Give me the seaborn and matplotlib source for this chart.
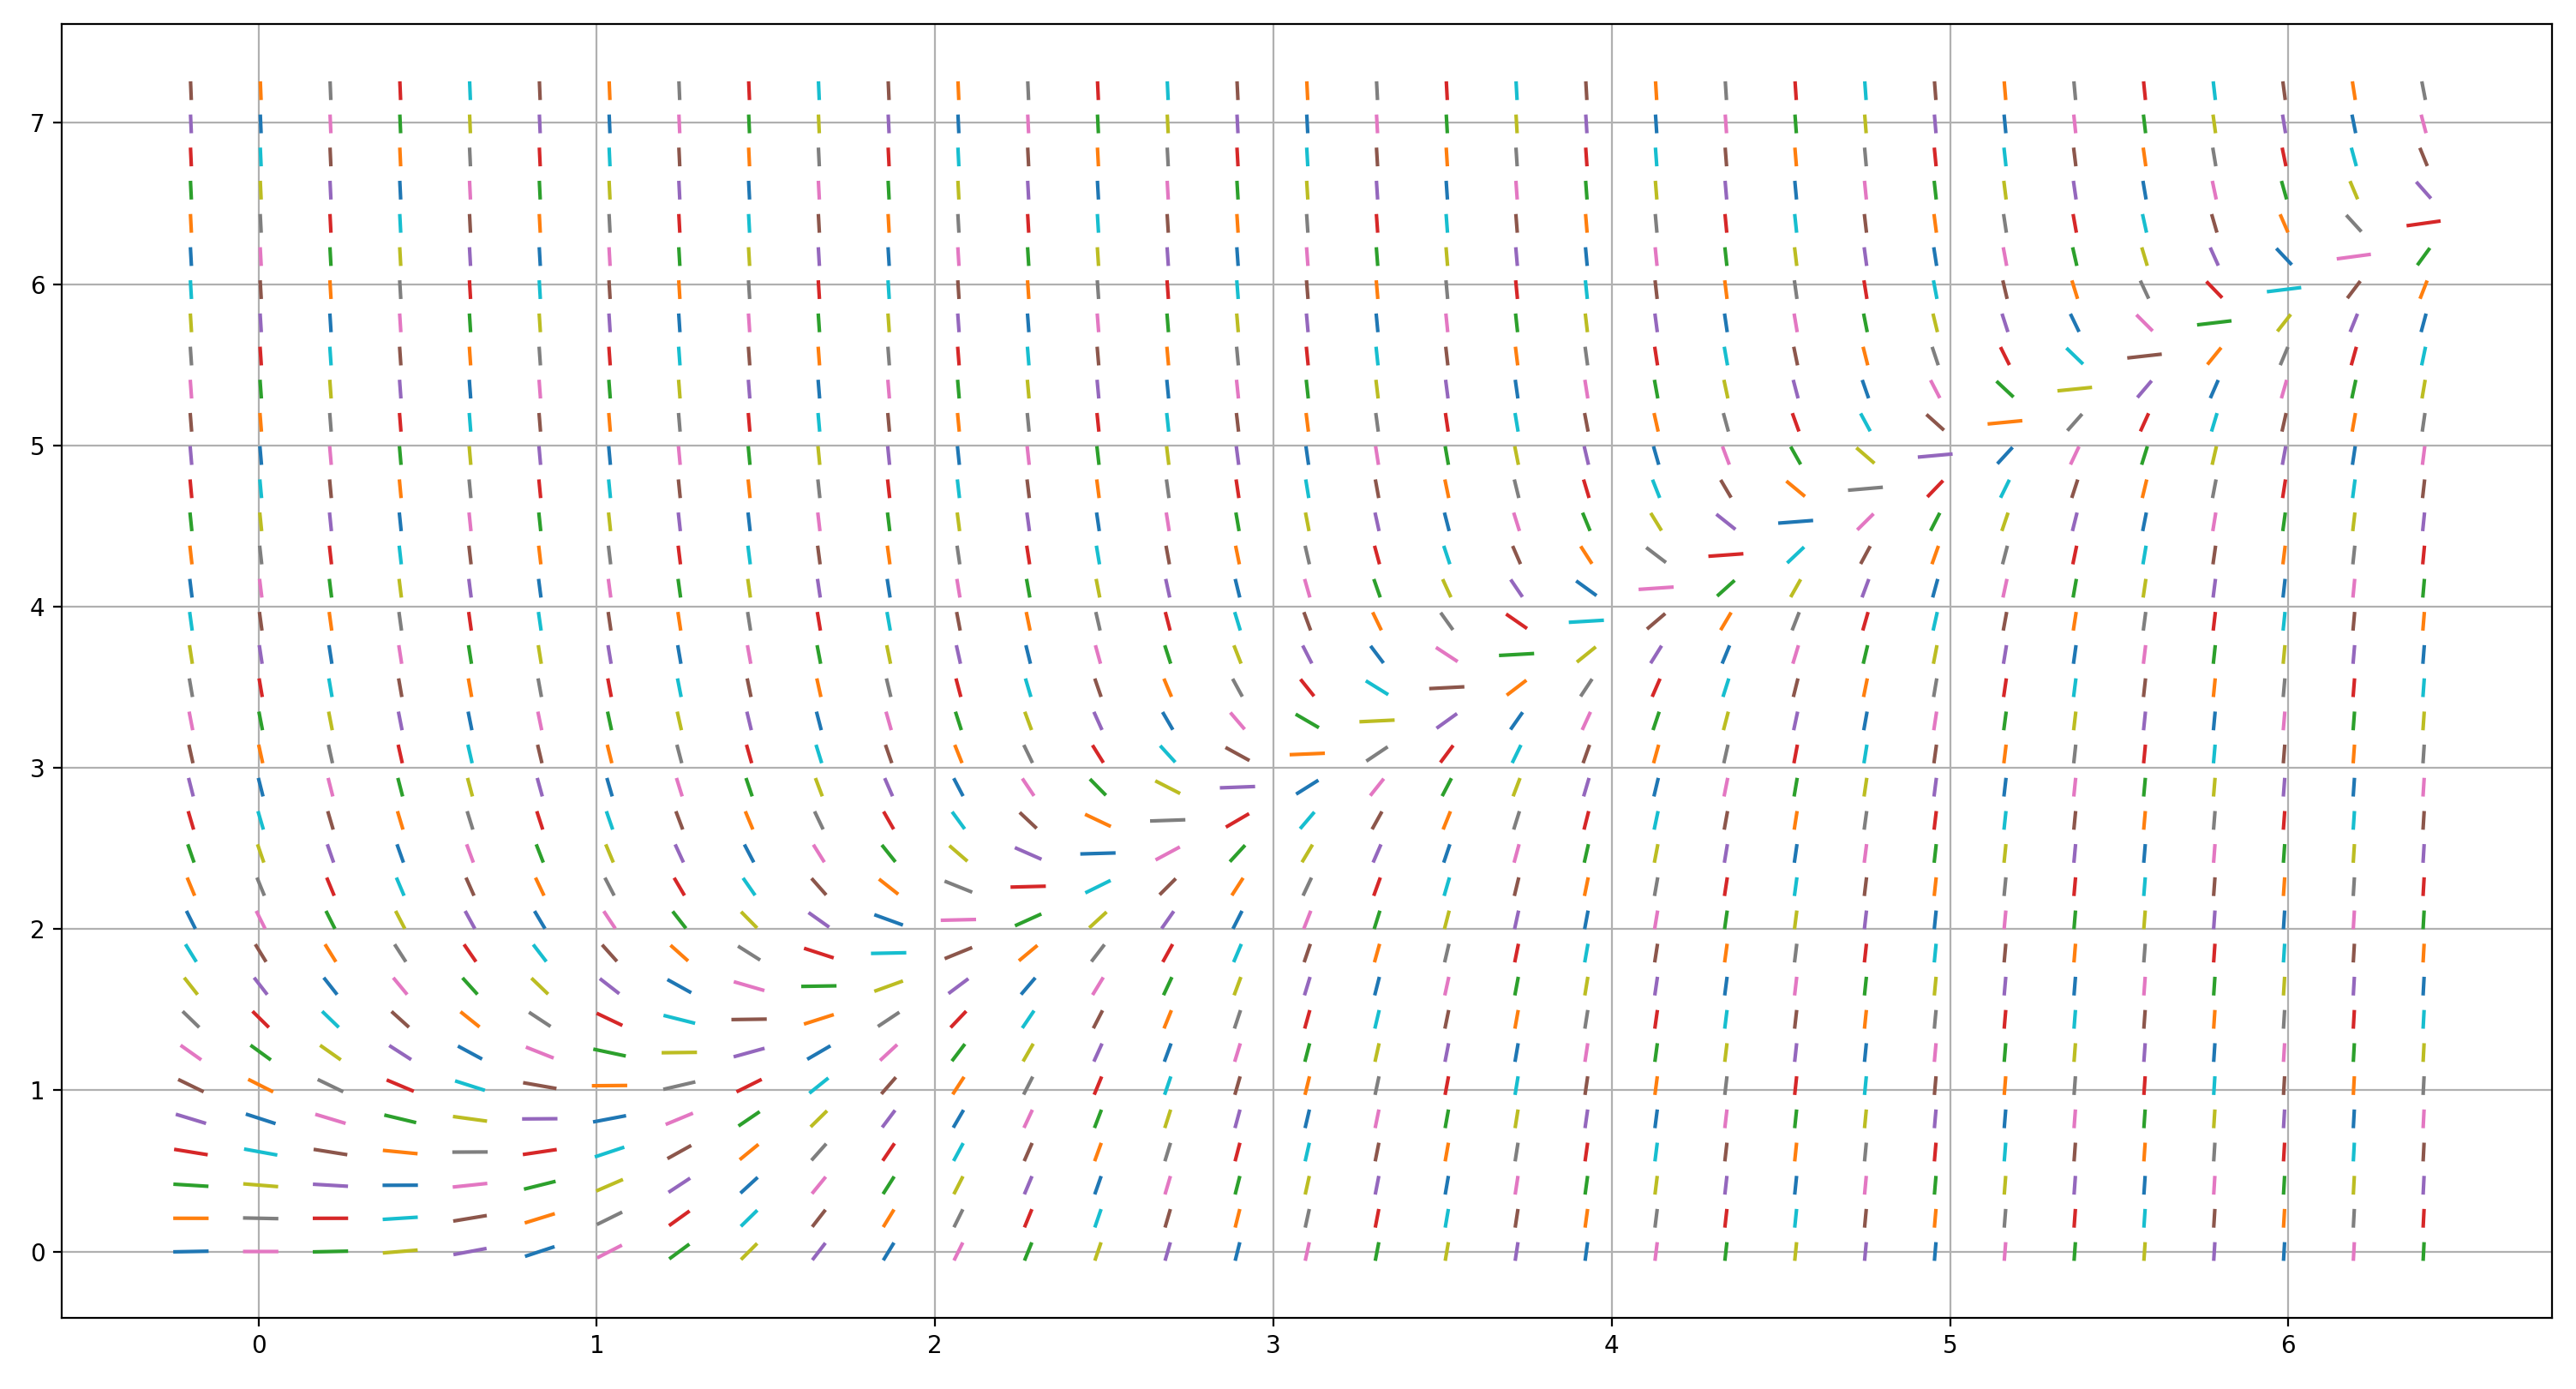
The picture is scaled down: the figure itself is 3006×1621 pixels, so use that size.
import numpy as np
import pandas as pd
import matplotlib
matplotlib.use("Agg")
import matplotlib.pyplot as plt
import seaborn as sns

# =========================================================================
# 1. DATA: direction field of dy/dx = x^2 - y^2 on a regular grid
# =========================================================================
x_grid = [-0.2, 0.00625, 0.2125, 0.41875, 0.625, 0.83125, 1.0375, 1.24375,
          1.45, 1.65625, 1.8625, 2.06875, 2.275, 2.48125, 2.6875, 2.89375,
          3.1, 3.30625, 3.5125, 3.71875, 3.925, 4.13125, 4.3375, 4.54375,
          4.75, 4.95625, 5.1625, 5.36875, 5.575, 5.78125, 5.9875, 6.19375, 6.4]

y_grid = [0.0, 0.206, 0.411, 0.617, 0.823, 1.029, 1.234, 1.44, 1.646, 1.851,
          2.057, 2.263, 2.469, 2.674, 2.88, 3.086, 3.291, 3.497, 3.703, 3.909,
          4.114, 4.32, 4.526, 4.731, 4.937, 5.143, 5.349, 5.554, 5.76, 5.966,
          6.171, 6.377, 6.583, 6.789, 6.994, 7.2]

half_len = 0.047  # half of each dash, in data units


def slope(x, y):
    # right-hand side of the ODE
    return x ** 2 - y ** 2


# Build one two-point line per grid node (outer loop x, inner loop y)
rows = []
seg = 0
for x0 in x_grid:
    for y0 in y_grid:
        m = slope(x0, y0)
        dx = half_len / np.sqrt(1 + m ** 2)
        rows.append({"seg": f"s{seg:05d}", "x": x0 - dx, "y": y0 - m * dx})
        rows.append({"seg": f"s{seg:05d}", "x": x0 + dx, "y": y0 + m * dx})
        seg += 1

df = pd.DataFrame(rows)

# colours cycle through tab10 just like successive plt.plot calls
tab10 = sns.color_palette("tab10", 10)
palette = [tab10[i % 10] for i in range(seg)]

# =========================================================================
# 2. PLOT
# =========================================================================
fig, ax = plt.subplots(figsize=(15.03, 8.105), dpi=200)
fig.subplots_adjust(left=0.024, right=0.9907, bottom=0.0512, top=0.9825)

sns.lineplot(data=df, x="x", y="y", hue="seg", palette=palette,
             estimator=None, sort=False, legend=False, linewidth=1.5, ax=ax)

ax.set_xlabel("")
ax.set_ylabel("")
ax.grid(True)

fig.savefig("out.png", dpi=200)
